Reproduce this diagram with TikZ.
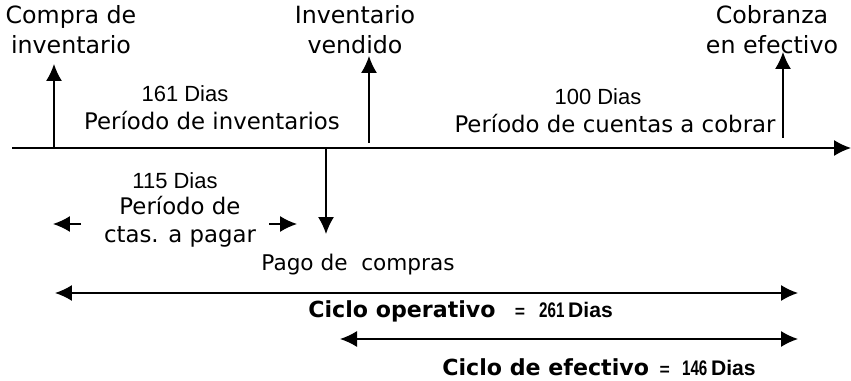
\documentclass[tikz,border=0pt]{standalone}
\usepackage{fontspec}
\setmainfont{DejaVu Sans}
\newfontfamily\numfont{Liberation Sans}
\newfontfamily\narrowfont[FakeStretch=0.72]{Liberation Sans}
\usetikzlibrary{positioning, calc, arrows.meta}

\newcommand{\cifra}[1]{{\narrowfont\bfseries\fontsize{12}{14}\selectfont #1}}
\newcommand{\diasb}{{\numfont\bfseries\fontsize{12}{14}\selectfont Dias}}
\newcommand{\igual}{{\numfont\bfseries\fontsize{10}{12}\selectfont =}}

\begin{document}
\begin{tikzpicture}[x=0.02cm, y=-0.02cm]
			\tikzstyle{lab}=[align=center, inner sep=0pt, font=\fontsize{13.5}{17}\selectfont]
			\tikzstyle{per}=[align=center, inner sep=0pt, font=\fontsize{13}{16}\selectfont]
			\tikzstyle{dias}=[inner sep=0pt, font=\numfont\fontsize{12.5}{15}\selectfont]
			\tikzstyle{ciclo}=[inner sep=0pt, anchor=west, font=\bfseries\fontsize{12.6}{15}\selectfont]
			\tikzstyle{flecha}=[-{Latex[length=3.4mm, width=3.2mm]}, thick]
			\tikzstyle{doble}=[{Latex[length=3.4mm, width=3.2mm]}-{Latex[length=3.4mm, width=3.2mm]}, thick]
			\useasboundingbox (0,0) rectangle (851,381);
			%%
			\coordinate (ini) at (12,148);
			\coordinate (fin) at (851,148);
			\coordinate (p1) at (54,148);
			\coordinate (p2) at (369,143);
			\coordinate (p3) at (783,138);
			\coordinate (p4) at (326,148);
			
			\draw [flecha] (ini) -- (fin);
			
			\node (compra) at (71,30) [lab] {Compra de\\inventario};
			\node (vendido) at (355,30) [lab] {Inventario\\vendido};
			\node (cobranza) at (772,30) [lab] {Cobranza\\en efectivo};
			\node (pago) at (358,265) [per, font=\fontsize{12.3}{15}\selectfont] {Pago de\ \ compras};
			
			\draw [flecha] (p1) -- (54,64);
			\draw [flecha] (p2) -- (369,56);
			\draw [flecha] (p3) -- (783,52);
			\draw [flecha] (p4) -- (326,234);
			
			\node (d161) at (185,94) [dias] {161 Dias};
			\node (pinv) at (212,121) [per] {Período de inventarios};
			\node (d100) at (598,97) [dias] {100 Dias};
			\node (pcob) at (615,124) [per] {Período de cuentas a cobrar};
			
			\node (d115) at (175,181) [dias] {115 Dias};
			\node (ppag) at (180,222) [per] {Período de\\ctas. a pagar};
			\coordinate (pl1) at (81,224);
			\coordinate (pl2) at (53,224);
			\coordinate (pr1) at (269,224);
			\coordinate (pr2) at (297,224);
			\draw [flecha] (pl1) -- (pl2);
			\draw [flecha] (pr1) -- (pr2);
			
			\coordinate (op1) at (55,293);
			\coordinate (op2) at (798,293);
			\draw [doble] (op1) -- (op2);
			\node (cop) at (308,311) [ciclo] {Ciclo operativo\hspace{11pt}\igual\hspace{8pt}\cifra{261}\,\diasb};
			
			\coordinate (ef1) at (340,339);
			\coordinate (ef2) at (798,339);
			\draw [doble] (ef1) -- (ef2);
			\node (cef) at (442,367) [ciclo] {Ciclo de efectivo\hspace{6pt}\igual\hspace{7pt}\cifra{146}\,\diasb};
			\end{tikzpicture}
\end{document}
